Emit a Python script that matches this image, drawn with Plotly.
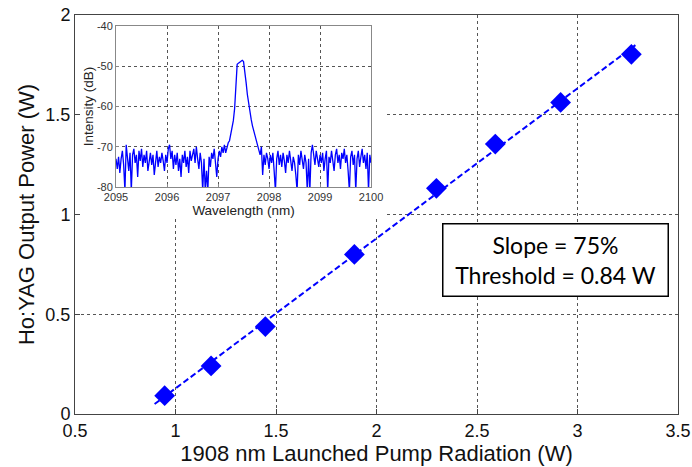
import numpy as np
import plotly.graph_objects as go

# Main data
pump_w = [0.946, 1.177, 1.447, 1.890, 2.298, 2.591, 2.916, 3.268]
output_w = [0.092, 0.241, 0.438, 0.800, 1.131, 1.353, 1.562, 1.803]

# Linear fit line endpoints (slope 75%, threshold 0.84 W)
fit_x = [0.896, 3.30]
fit_y = [0.050, 1.858]

x_ticks = [0.5, 1, 1.5, 2, 2.5, 3, 3.5]
y_ticks = [0, 0.5, 1, 1.5, 2]

# Inset spectrum (0.025 nm sampling from 2095 to 2100 nm)
wl_start = 2095.0
wl_stop = 2100.0
intensity_db = [
    -73, -75.5, -72.5, -76.5, -73, -71, -74.5, -81, -69.5, -73,
    -76, -71.5, -81, -72, -70.5, -74, -72, -77.5, -71, -73.5,
    -70.5, -75, -72, -74, -71, -76, -73, -71.5, -74.5, -72,
    -77, -73, -71, -75, -72.5, -74, -71.5, -73.5, -76, -72,
    -74, -70.5, -69.5, -73, -71, -75.5, -72, -74.5, -71.5, -76,
    -73, -77.5, -72, -74, -71, -75, -72.5, -76.5, -71, -73.5,
    -72, -70.5, -74, -70, -73, -75.5, -71.5, -74, -81, -73,
    -81, -76, -81, -72.5, -75, -71.5, -73, -70.5, -74, -77.5,
    -73, -71, -72.5, -70, -71.5, -69.5,
    -71.5, -70, -69, -68.5, -67, -65.5, -63.5, -60.5, -55.5, -49.5,
    -49.2, -49.0, -48.6, -48.5, -48.8, -51, -54, -57, -59.5, -61.5,
    -63.2, -64.8, -66, -67.3, -68.5, -69.5, -70.5, -72, -70, -77,
    -72, -74.5, -71.5, -73, -75.5, -72, -74, -71.5, -76, -81,
    -73, -71, -74.5, -72, -75, -71.5, -73.5, -76.5, -72, -74,
    -71, -73.5, -76, -72.5, -74, -77, -81, -72, -74.5, -71,
    -73, -75.5, -72, -74, -81, -73, -81, -71.5, -69.5, -72,
    -74.5, -71, -73.5, -75, -72, -74, -71.5, -76, -73, -71,
    -81, -72.5, -74, -71, -73.5, -76, -72, -70.5, -74, -72,
    -75.5, -71.5, -73, -70.5, -74, -72, -76, -81, -72.5, -71,
    -74.5, -72, -81, -73, -71, -75, -72.5, -70.5, -74, -72,
    -75.5, -71.5, -81, -72, -74,
]
wavelength_nm = np.linspace(wl_start, wl_stop, len(intensity_db))

inset_x_ticks = [2095, 2096, 2097, 2098, 2099, 2100]
inset_y_ticks = [-80, -70, -60, -50, -40]

BLUE = "#0000FF"
GRID = "#555555"
FONT = "Liberation Sans, Arial, sans-serif"

fig = go.Figure()

fig.add_trace(go.Scatter(
    x=fit_x, y=fit_y, mode="lines",
    line=dict(color=BLUE, width=2, dash="6px,3px"),
    xaxis="x", yaxis="y", showlegend=False, hoverinfo="skip",
))
fig.add_trace(go.Scatter(
    x=pump_w, y=output_w, mode="markers",
    marker=dict(symbol="diamond", size=16, color=BLUE, line=dict(width=0)),
    xaxis="x", yaxis="y", showlegend=False,
))
fig.add_trace(go.Scatter(
    x=wavelength_nm, y=intensity_db, mode="lines",
    line=dict(color=BLUE, width=1.3),
    xaxis="x2", yaxis="y2", showlegend=False,
))

# White area behind inset (hides main gridlines)
fig.add_shape(
    type="rect", xref="x", yref="y", layer="between",
    x0=0.5, x1=2.045, y0=0.99, y1=2.0,
    fillcolor="white", line=dict(width=0),
)

fig.add_annotation(
    x=2.889, y=0.774, xref="x", yref="y",
    text="Slope = 75%<br>Threshold = 0.84 W",
    showarrow=False,
    font=dict(family="Lato, Liberation Sans, sans-serif", size=23, color="black"),
    bgcolor="white", bordercolor="black", borderwidth=1.5, borderpad=2,
    width=220, height=67, align="center",
)

fig.update_layout(
    width=692, height=467,
    margin=dict(l=75, r=14, t=15, b=53, autoexpand=False),
    paper_bgcolor="white", plot_bgcolor="white",
    font=dict(family=FONT, color="#111"),
    xaxis=dict(
        domain=[0, 1], range=[0.5, 3.5], tickvals=x_ticks,
        ticktext=[str(v) for v in x_ticks], automargin=False,
        showline=True, mirror=True, linecolor="#444", linewidth=1,
        ticks="inside", ticklen=5, tickcolor="#444",
        showgrid=True, gridcolor=GRID, griddash="dot", gridwidth=1,
        zeroline=False, tickfont=dict(size=18),
        title=dict(text="1908 nm Launched Pump Radiation (W)", font=dict(size=22), standoff=6),
    ),
    yaxis=dict(
        domain=[0, 1], range=[0, 2], tickvals=y_ticks,
        ticktext=[str(v) for v in y_ticks], automargin=False,
        showline=True, mirror=True, linecolor="#444", linewidth=1,
        ticks="inside", ticklen=5, tickcolor="#444",
        showgrid=True, gridcolor=GRID, griddash="dot", gridwidth=1,
        zeroline=False, tickfont=dict(size=18),
        title=dict(text="Ho:YAG Output Power (W)", font=dict(size=22), standoff=4),
    ),
    xaxis2=dict(
        domain=[0.068, 0.491], anchor="y2", range=[2095, 2100],
        tickvals=inset_x_ticks, ticktext=[str(v) for v in inset_x_ticks],
        automargin=False,
        showline=True, mirror=True, linecolor="#888", linewidth=1,
        ticks="inside", ticklen=3, tickcolor="#888",
        showgrid=True, gridcolor=GRID, griddash="dot", gridwidth=1,
        zeroline=False, tickfont=dict(size=11, color="#333"),
        title=dict(text="Wavelength (nm)", font=dict(size=13.5, color="#222"), standoff=0),
    ),
    yaxis2=dict(
        domain=[0.569, 0.972], anchor="x2", range=[-80, -40],
        tickvals=inset_y_ticks, ticktext=[str(v) for v in inset_y_ticks],
        automargin=False,
        showline=True, mirror=True, linecolor="#888", linewidth=1,
        ticks="inside", ticklen=3, tickcolor="#888",
        showgrid=True, gridcolor=GRID, griddash="dot", gridwidth=1,
        zeroline=False, tickfont=dict(size=11, color="#333"),
        title=dict(text="Intensity (dB)", font=dict(size=13.5, color="#222"), standoff=0),
    ),
)

# Remove the default page margin so the 692x467 figure fills the window exactly.
fig.write_html(
    "out.html",
    config={"displayModeBar": False},
    post_script="document.body.style.margin='0';",
)
